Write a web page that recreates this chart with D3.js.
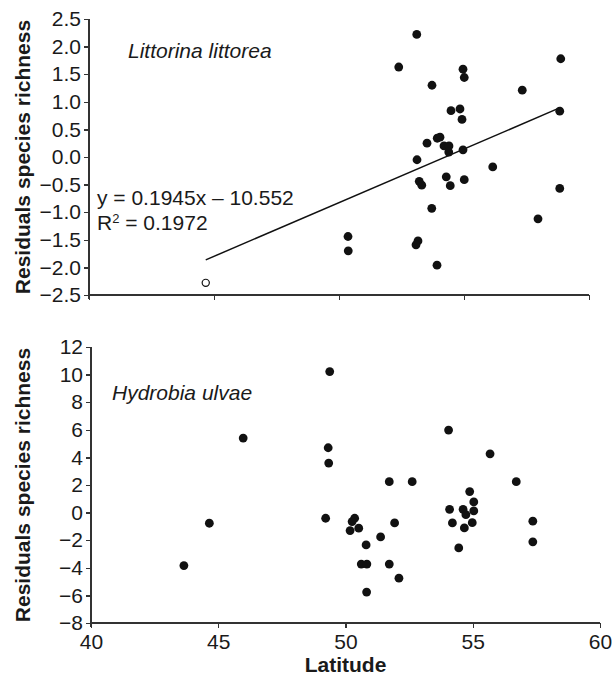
<!DOCTYPE html>
<html>
<head>
<meta charset="utf-8">
<script src="https://cdn.jsdelivr.net/npm/d3@7"></script>
<style>
  body { margin: 0; background: #fff; }
  svg text { font-family: "Liberation Sans", Arial, sans-serif; fill: #1a1a1a; }
  .axis path, .axis line { stroke: #333; stroke-width: 1.3; shape-rendering: crispEdges; }
  .axis text { font-size: 21px; }
</style>
</head>
<body>
<div id="chart"></div>
<script>
// Littorina littorea (top panel): latitude and residual species richness
const littLat = [53.11, 52.39, 54.96, 55.01, 58.87, 53.72, 57.33, 54.48, 54.84, 58.83, 54.92,
  53.93, 54.04, 53.52, 54.2, 54.4, 54.39, 54.96, 53.12, 56.15, 53.21, 53.31, 54.29, 54.45,
  55.01, 58.83, 53.71, 57.96, 50.36, 50.37, 53.16, 53.08, 53.92];
const littRes = [2.22, 1.63, 1.59, 1.44, 1.78, 1.30, 1.21, 0.84, 0.87, 0.83, 0.68,
  0.34, 0.36, 0.25, 0.20, 0.20, 0.09, 0.13, -0.05, -0.18, -0.44, -0.51, -0.36, -0.52,
  -0.41, -0.57, -0.93, -1.12, -1.44, -1.70, -1.52, -1.59, -1.96];
// open-circle point
const littOutLat = [44.67];
const littOutRes = [-2.28];
// trend line from the equation label
const slope = 0.1945;
const intercept = -10.552;
const rSquared = 0.1972;

// Hydrobia ulvae (bottom panel)
const hydrLat = [43.65, 44.65, 45.98, 49.38, 49.32, 49.34, 49.22, 50.36, 50.26, 50.18, 50.52,
  50.81, 50.62, 50.84, 50.83, 51.38, 51.72, 51.93, 51.72, 52.10, 52.62, 54.05, 55.68, 56.71,
  54.88, 55.04, 54.09, 54.62, 54.73, 55.04, 54.20, 54.98, 54.67, 54.45, 57.36, 57.36];
const hydrRes = [-3.84, -0.77, 5.40, 10.22, 4.70, 3.59, -0.41, -0.41, -0.65, -1.30, -1.13,
  -2.34, -3.73, -3.73, -5.76, -1.76, 2.24, -0.75, -3.73, -4.75, 2.24, 5.98, 4.26, 2.24,
  1.52, 0.77, 0.24, 0.24, -0.15, 0.12, -0.75, -0.73, -1.11, -2.56, -0.62, -2.12];

const xTicks = [40, 45, 50, 55, 60];
const topYTicks = [-2.5, -2.0, -1.5, -1.0, -0.5, 0.0, 0.5, 1.0, 1.5, 2.0, 2.5];
const botYTicks = [-8, -6, -4, -2, 0, 2, 4, 6, 8, 10, 12];

const W = 613, H = 681;
const svg = d3.select("#chart").append("svg")
  .attr("width", W)
  .attr("height", H);

const minus = s => s.replace("-", "\u2212");

function panel(opts) {
  let g = svg.append("g");

  let x = d3.scaleLinear().domain([40, 60]).range([opts.left, opts.right]);
  let y = d3.scaleLinear().domain(opts.yDomain).range([opts.bottom, opts.top]);

  let xAxis = d3.axisBottom(x).tickValues(xTicks).tickSize(5).tickPadding(6)
    .tickFormat(opts.xLabels ? d3.format("d") : "");
  g.append("g")
    .attr("class", "axis")
    .attr("transform", "translate(0," + opts.bottom + ")")
    .call(xAxis)
    .call(a => a.select(".domain").attr("d", "M" + opts.left + ",0H" + opts.right));

  let yAxis = d3.axisLeft(y).tickValues(opts.yTicks).tickSize(5).tickPadding(3)
    .tickFormat(d => minus(d3.format(opts.yFmt)(d)));
  g.append("g")
    .attr("class", "axis")
    .attr("transform", "translate(" + opts.left + ",0)")
    .call(yAxis)
    .call(a => a.select(".domain").attr("d", "M0," + opts.top + "V" + (opts.bottom + 4)));

  // rotated y title
  g.append("text")
    .attr("transform", "translate(30," + (opts.top + opts.bottom) / 2 + ") rotate(-90)")
    .attr("text-anchor", "middle")
    .style("font-size", "21px")
    .style("font-weight", "bold")
    .text("Residuals species richness");

  // species name
  g.append("text")
    .attr("x", opts.nameX)
    .attr("y", opts.nameY)
    .style("font-size", "21px")
    .style("font-style", "italic")
    .text(opts.name);

  return {g: g, x: x, y: y};
}

// top panel
let topPanel = panel({
  left: 89, right: 589, top: 19, bottom: 295,
  yDomain: [-2.5, 2.5], yTicks: topYTicks, yFmt: ".1f",
  xLabels: false, name: "Littorina littorea", nameX: 128, nameY: 58
});

let lineExt = d3.extent(littLat.concat(littOutLat));
topPanel.g.append("line")
  .attr("x1", topPanel.x(lineExt[0]))
  .attr("y1", topPanel.y(slope * lineExt[0] + intercept))
  .attr("x2", topPanel.x(lineExt[1]))
  .attr("y2", topPanel.y(slope * lineExt[1] + intercept))
  .attr("stroke", "#111")
  .attr("stroke-width", 1.5);

topPanel.g.selectAll(".dot")
  .data(littLat.map((d, i) => [d, littRes[i]]))
  .enter()
  .append("circle")
  .attr("class", "dot")
  .attr("cx", d => topPanel.x(d[0]))
  .attr("cy", d => topPanel.y(d[1]))
  .attr("r", 4.4)
  .attr("fill", "#111");

topPanel.g.selectAll(".open")
  .data(littOutLat.map((d, i) => [d, littOutRes[i]]))
  .enter()
  .append("circle")
  .attr("class", "open")
  .attr("cx", d => topPanel.x(d[0]))
  .attr("cy", d => topPanel.y(d[1]))
  .attr("r", 3.6)
  .attr("fill", "#fff")
  .attr("stroke", "#111")
  .attr("stroke-width", 1.2);

let eq = topPanel.g.append("text")
  .attr("x", 97)
  .attr("y", 205)
  .style("font-size", "21px");
eq.append("tspan").text("y = " + slope + "x \u2013 " + Math.abs(intercept));
let r2 = topPanel.g.append("text")
  .attr("x", 97)
  .attr("y", 230)
  .style("font-size", "21px");
r2.append("tspan").text("R");
r2.append("tspan").attr("dy", -7).style("font-size", "13px").text("2");
r2.append("tspan").attr("dy", 7).text(" = " + rSquared);

// bottom panel
let botPanel = panel({
  left: 91, right: 600, top: 347, bottom: 623,
  yDomain: [-8, 12], yTicks: botYTicks, yFmt: "d",
  xLabels: true, name: "Hydrobia ulvae", nameX: 112, nameY: 400
});

botPanel.g.selectAll(".dot")
  .data(hydrLat.map((d, i) => [d, hydrRes[i]]))
  .enter()
  .append("circle")
  .attr("class", "dot")
  .attr("cx", d => botPanel.x(d[0]))
  .attr("cy", d => botPanel.y(d[1]))
  .attr("r", 4.4)
  .attr("fill", "#111");

svg.append("text")
  .attr("x", (91 + 600) / 2)
  .attr("y", 672)
  .attr("text-anchor", "middle")
  .style("font-size", "21px")
  .style("font-weight", "bold")
  .text("Latitude");
</script>
</body>
</html>
